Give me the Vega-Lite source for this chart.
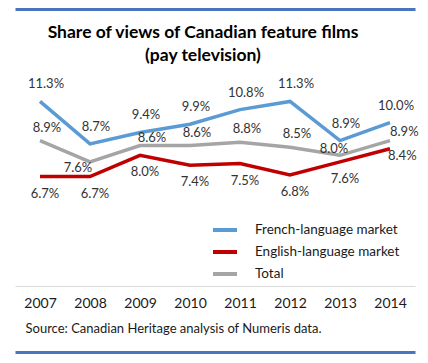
{
  "$schema": "https://vega.github.io/schema/vega-lite/v6.json",
  "width": 400,
  "height": 196,
  "autosize": {"type": "none"},
  "padding": {"left": 15, "top": 90, "right": 13, "bottom": 77},
  "background": "white",
  "config": {"view": {"stroke": null}, "font": "Lato"},
  "title": {
    "text": ["Share of views of Canadian feature films", "(pay television)"],
    "fontSize": 17.5,
    "fontWeight": "bold",
    "font": "Lato",
    "color": "black",
    "anchor": "middle",
    "dx": -12,
    "dy": 59,
    "lineHeight": 23
  },
  "data": {
    "values": [
      {"year": 2007, "series": "French-language market", "share": 0.113},
      {"year": 2008, "series": "French-language market", "share": 0.087},
      {"year": 2009, "series": "French-language market", "share": 0.094},
      {"year": 2010, "series": "French-language market", "share": 0.099},
      {"year": 2011, "series": "French-language market", "share": 0.108},
      {"year": 2012, "series": "French-language market", "share": 0.113},
      {"year": 2013, "series": "French-language market", "share": 0.089},
      {"year": 2014, "series": "French-language market", "share": 0.100},
      {"year": 2007, "series": "English-language market", "share": 0.067},
      {"year": 2008, "series": "English-language market", "share": 0.067},
      {"year": 2009, "series": "English-language market", "share": 0.080},
      {"year": 2010, "series": "English-language market", "share": 0.074},
      {"year": 2011, "series": "English-language market", "share": 0.075},
      {"year": 2012, "series": "English-language market", "share": 0.068},
      {"year": 2013, "series": "English-language market", "share": 0.076},
      {"year": 2014, "series": "English-language market", "share": 0.084},
      {"year": 2007, "series": "Total", "share": 0.089},
      {"year": 2008, "series": "Total", "share": 0.076},
      {"year": 2009, "series": "Total", "share": 0.086},
      {"year": 2010, "series": "Total", "share": 0.086},
      {"year": 2011, "series": "Total", "share": 0.088},
      {"year": 2012, "series": "Total", "share": 0.085},
      {"year": 2013, "series": "Total", "share": 0.080},
      {"year": 2014, "series": "Total", "share": 0.089}
    ]
  },
  "resolve": {"axis": {"x": "independent"}},
  "layer": [
    {
      "mark": {"type": "line", "strokeWidth": 3.5},
      "encoding": {
        "x": {
          "field": "year",
          "type": "ordinal",
          "axis": {
            "orient": "bottom",
            "domainColor": "#D9D9D9",
            "domainWidth": 1,
            "ticks": false,
            "tickSize": 0,
            "labelAngle": 0,
            "labelFontSize": 14,
            "labelColor": "#1a1a1a",
            "labelPadding": 10,
            "title": "Source: Canadian Heritage analysis of Numeris data.",
            "titleAnchor": "start",
            "titleAlign": "left",
            "titleX": 10,
            "titleY": 36,
            "titleBaseline": "top",
            "titleFontSize": 13,
            "titleFontWeight": "normal",
            "titleColor": "#1a1a1a"
          }
        },
        "y": {"field": "share", "type": "quantitative", "scale": {"domain": [0, 0.12]}, "axis": null},
        "color": {
          "field": "series",
          "type": "nominal",
          "scale": {
            "domain": ["French-language market", "English-language market", "Total"],
            "range": ["#5B9BD5", "#C00000", "#A5A5A5"]
          },
          "legend": {
            "title": null,
            "orient": "none",
            "legendX": 196,
            "legendY": 126,
            "symbolType": "stroke",
            "symbolStrokeWidth": 4,
            "symbolSize": 576,
            "labelFontSize": 13.5,
            "labelColor": "#1a1a1a",
            "labelOffset": 16,
            "rowPadding": -3,
            "padding": 0
          }
        }
      }
    },
    {
      "transform": [{"filter": "datum.series == 'French-language market'"}],
      "mark": {"type": "text", "dx": 6, "dy": -17, "fontSize": 13, "color": "#333333"},
      "encoding": {
        "x": {
          "field": "year",
          "type": "ordinal",
          "axis": {"orient": "top", "offset": 81, "domainColor": "#4A74BC", "domainWidth": 3, "ticks": false, "labels": false, "title": null}
        },
        "y": {"field": "share", "type": "quantitative"},
        "text": {"field": "share", "type": "quantitative", "format": ".1%"}
      }
    },
    {
      "transform": [{"filter": "datum.series == 'English-language market' && datum.year != 2014"}],
      "mark": {"type": "text", "dx": 5, "dy": 17, "fontSize": 13, "color": "#333333"},
      "encoding": {
        "x": {
          "field": "year",
          "type": "ordinal",
          "axis": {"orient": "bottom", "offset": 66, "domainColor": "#4A74BC", "domainWidth": 3, "ticks": false, "labels": false, "title": null}
        },
        "y": {"field": "share", "type": "quantitative"},
        "text": {"field": "share", "type": "quantitative", "format": ".1%"}
      }
    },
    {
      "transform": [{"filter": "datum.series == 'Total' && datum.year != 2008 && datum.year != 2009 && datum.year != 2013 && datum.year != 2014"}],
      "mark": {"type": "text", "dx": 7, "dy": -13, "fontSize": 13, "color": "#333333"},
      "encoding": {
        "x": {"field": "year", "type": "ordinal", "axis": null},
        "y": {"field": "share", "type": "quantitative"},
        "text": {"field": "share", "type": "quantitative", "format": ".1%"}
      }
    },
    {
      "transform": [{"filter": "datum.series == 'Total' && datum.year == 2009"}],
      "mark": {"type": "text", "dx": 12, "dy": -8, "fontSize": 13, "color": "#333333"},
      "encoding": {
        "x": {"field": "year", "type": "ordinal", "axis": null},
        "y": {"field": "share", "type": "quantitative"},
        "text": {"field": "share", "type": "quantitative", "format": ".1%"}
      }
    },
    {
      "transform": [{"filter": "datum.series == 'Total' && datum.year == 2008"}],
      "mark": {"type": "text", "dx": -12, "dy": 6, "fontSize": 13, "color": "#333333"},
      "encoding": {
        "x": {"field": "year", "type": "ordinal", "axis": null},
        "y": {"field": "share", "type": "quantitative"},
        "text": {"field": "share", "type": "quantitative", "format": ".1%"}
      }
    },
    {
      "transform": [{"filter": "datum.series == 'Total' && datum.year == 2013"}],
      "mark": {"type": "text", "dx": -6, "dy": -6, "fontSize": 13, "color": "#333333"},
      "encoding": {
        "x": {"field": "year", "type": "ordinal", "axis": null},
        "y": {"field": "share", "type": "quantitative"},
        "text": {"field": "share", "type": "quantitative", "format": ".1%"}
      }
    },
    {
      "transform": [{"filter": "datum.series == 'Total' && datum.year == 2014"}],
      "mark": {"type": "text", "align": "left", "dx": 0, "dy": -9, "fontSize": 13, "color": "#333333"},
      "encoding": {
        "x": {"field": "year", "type": "ordinal", "axis": null},
        "y": {"field": "share", "type": "quantitative"},
        "text": {"field": "share", "type": "quantitative", "format": ".1%"}
      }
    },
    {
      "transform": [{"filter": "datum.series == 'English-language market' && datum.year == 2014"}],
      "mark": {"type": "text", "align": "left", "dx": -2, "dy": 7, "fontSize": 13, "color": "#333333"},
      "encoding": {
        "x": {"field": "year", "type": "ordinal", "axis": null},
        "y": {"field": "share", "type": "quantitative"},
        "text": {"field": "share", "type": "quantitative", "format": ".1%"}
      }
    }
  ]
}
